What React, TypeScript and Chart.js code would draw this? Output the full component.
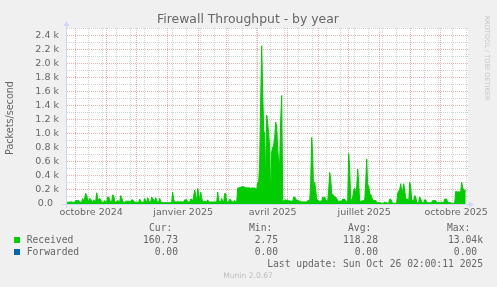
import React, { useEffect, useRef } from 'react';
import { Chart, registerables } from 'chart.js';

Chart.register(...registerables);

// ---- Data (x values are days relative to 1 Oct 2024) ----
const TITLE = 'Firewall Throughput - by year';
const Y_TITLE = 'Packets/second';
const FIRST_DAY = -9;
const X_MIN = -9.7;
const X_MAX = 392.3;
const Y_MAX = 2514;

// Received packets/second, one value per day starting at FIRST_DAY
const received = [
  25, 25, 25, 30, 30, 30, 25, 25, 25, 50,
  50, 50, 50, 25, 25, 25, 80, 40, 90, 150,
  120, 60, 30, 80, 70, 40, 30, 60, 40, 40,
  160, 90, 30, 80, 60, 25, 25, 25, 50, 30,
  25, 100, 100, 60, 30, 30, 130, 120, 30, 30,
  30, 50, 40, 30, 120, 90, 40, 25, 25, 40,
  40, 40, 40, 40, 25, 60, 60, 40, 30, 25,
  25, 25, 25, 70, 40, 25, 25, 25, 80, 40,
  25, 90, 50, 25, 25, 100, 80, 60, 30, 90,
  50, 25, 25, 80, 40, 20, 20, 20, 20, 20,
  20, 20, 20, 20, 20, 30, 170, 60, 30, 30,
  30, 40, 30, 30, 35, 30, 30, 30, 60, 60,
  60, 30, 30, 30, 70, 70, 30, 120, 200, 130,
  40, 220, 150, 40, 170, 80, 35, 35, 35, 35,
  35, 60, 30, 30, 30, 30, 30, 30, 30, 30,
  30, 170, 60, 30, 30, 80, 30, 30, 150, 150,
  30, 30, 30, 70, 60, 30, 30, 30, 50, 30,
  30, 230, 230, 235, 240, 245, 250, 245, 240, 235,
  230, 235, 230, 230, 225, 230, 230, 225, 230, 220,
  200, 310, 320, 600, 1500, 2260, 1600, 1050, 1000, 300,
  1270, 1150, 1000, 800, 50, 750, 800, 850, 950, 1170,
  1100, 800, 580, 600, 1200, 1550, 50, 40, 60, 60,
  50, 60, 40, 50, 40, 40, 40, 100, 100, 80,
  40, 60, 40, 40, 40, 30, 30, 30, 30, 30,
  30, 50, 50, 40, 300, 950, 700, 100, 310, 200,
  60, 60, 40, 40, 40, 40, 100, 90, 100, 60,
  40, 40, 200, 450, 350, 140, 140, 120, 100, 100,
  80, 40, 40, 40, 40, 40, 70, 70, 70, 40,
  40, 40, 720, 500, 60, 60, 100, 190, 230, 150,
  250, 500, 300, 40, 40, 40, 50, 50, 50, 300,
  640, 260, 260, 140, 140, 100, 50, 50, 50, 50,
  20, 20, 20, 20, 20, 10, 10, 10, 30, 20,
  20, 10, 10, 70, 70, 40, 10, 10, 10, 10,
  10, 150, 190, 200, 290, 200, 190, 290, 200, 70,
  70, 70, 20, 310, 250, 50, 50, 50, 120, 100,
  20, 20, 20, 100, 80, 20, 20, 20, 60, 60,
  20, 20, 20, 20, 20, 20, 50, 50, 50, 50,
  20, 20, 20, 20, 20, 30, 20, 20, 70, 70,
  70, 20, 20, 20, 20, 10, 10, 10, 10, 180,
  180, 170, 180, 170, 180, 310, 240, 190, 200, 190,
];

// Month starts (major grid) and fortnightly Mondays (minor grid)
const monthStarts = [0, 31, 61, 92, 123, 151, 182, 212, 243, 273, 304, 335, 365];
const minorDays = [13, 27, 41, 55, 69, 83, 97, 111, 125, 139, 153, 167, 181, 195, 209, 223, 237, 251, 265, 279, 293, 307, 321, 349, 363, 377, 391];
const xLabelDays = [15.5, 107.5, 197, 288.5, 380.5];
const xLabels = ['octobre 2024', 'janvier 2025', 'avril 2025', 'juillet 2025', 'octobre 2025'];
const yTicks = [0, 100, 200, 300, 400, 500, 600, 700, 800, 900, 1000, 1100, 1200, 1300, 1400, 1500, 1600, 1700, 1800, 1900, 2000, 2100, 2200, 2300, 2400, 2500];

// Legend table
const legendNames = ['Received', 'Forwarded'];
const legendColors = ['#00cc00', '#0066b3'];
const colHeaders = ['Cur:', 'Min:', 'Avg:', 'Max:'];
const curValues = ['160.73', '0.00'];
const minValues = ['2.75', '0.00'];
const avgValues = ['118.28', '0.00'];
const maxValues = ['13.04k', '0.00 '];
const LAST_UPDATE = 'Last update: Sun Oct 26 02:00:11 2025';
const VERSION = 'Munin 2.0.67';
const WATERMARK = 'RRDTOOL / TOBI OETIKER';

const FONT_COLOR = '#666666';
const AXIS_COLOR = '#cfd6f8';
const MAJOR_GRID = 'rgba(190, 50, 50, 0.38)';
const MINOR_GRID = 'rgba(140, 140, 140, 0.38)';
const SANS = '"DejaVu Sans", sans-serif';
const MONO = '"DejaVu Sans Mono", monospace';

const decorPlugin = {
  id: 'muninDecor',
  beforeDraw(chart: any) {
    const { ctx, chartArea: a, width, height } = chart;
    ctx.save();
    ctx.fillStyle = '#f0f0f0';
    ctx.fillRect(0, 0, width, height);
    ctx.fillStyle = '#ffffff';
    ctx.fillRect(a.left, a.top, a.right - a.left, a.bottom - a.top);
    ctx.restore();
  },
  afterDraw(chart: any) {
    const { ctx, chartArea: a } = chart;
    ctx.save();
    // axes with arrows
    ctx.strokeStyle = AXIS_COLOR;
    ctx.fillStyle = AXIS_COLOR;
    ctx.lineWidth = 1;
    const ax = Math.round(a.left) + 0.5;
    const ay = Math.round(a.bottom) + 0.5;
    ctx.beginPath();
    ctx.moveTo(ax, a.bottom + 4);
    ctx.lineTo(ax, a.top - 4);
    ctx.moveTo(a.left - 4, ay);
    ctx.lineTo(a.right + 3, ay);
    ctx.stroke();
    ctx.beginPath();
    ctx.moveTo(ax, a.top - 7);
    ctx.lineTo(ax - 3, a.top - 2);
    ctx.lineTo(ax + 3, a.top - 2);
    ctx.closePath();
    ctx.fill();
    ctx.beginPath();
    ctx.moveTo(a.right + 6, ay);
    ctx.lineTo(a.right + 1, ay - 3);
    ctx.lineTo(a.right + 1, ay + 3);
    ctx.closePath();
    ctx.fill();

    // title
    ctx.fillStyle = FONT_COLOR;
    ctx.font = `12.4px ${SANS}`;
    ctx.textAlign = 'center';
    ctx.textBaseline = 'middle';
    ctx.fillText(TITLE, 248, 20);

    // y title
    ctx.save();
    ctx.translate(10.5, (a.top + a.bottom) / 2 + 2);
    ctx.rotate(-Math.PI / 2);
    ctx.font = `9.6px ${SANS}`;
    ctx.fillText(Y_TITLE, 0, 0);
    ctx.restore();

    // watermark
    ctx.save();
    ctx.translate(487, 58);
    ctx.rotate(Math.PI / 2);
    ctx.font = `6.6px ${SANS}`;
    ctx.fillStyle = '#c4c4c4';
    ctx.fillText(WATERMARK, 0, 0);
    ctx.restore();

    // legend
    ctx.font = `9.7px ${MONO}`;
    ctx.fillStyle = FONT_COLOR;
    ctx.textAlign = 'left';
    const headerX = [149, 249, 348, 447];
    colHeaders.forEach((h, i) => ctx.fillText(h, headerX[i], 228));
    const rowsY = [240, 252];
    const rightX = [178, 278, 378, 483];
    legendNames.forEach((name, r) => {
      ctx.fillStyle = legendColors[r];
      ctx.fillRect(14, rowsY[r] - 3, 6, 6);
      ctx.fillStyle = FONT_COLOR;
      ctx.textAlign = 'left';
      ctx.fillText(name, 26.7, rowsY[r]);
      ctx.textAlign = 'right';
      [curValues, minValues, avgValues, maxValues].forEach((vals, c) => {
        ctx.fillText(vals[r], rightX[c], rowsY[r]);
      });
    });
    ctx.textAlign = 'right';
    ctx.fillText(LAST_UPDATE, 483, 264);

    ctx.textAlign = 'center';
    ctx.font = `7.6px ${SANS}`;
    ctx.fillStyle = '#bdbdbd';
    ctx.fillText(VERSION, 248, 276);
    ctx.restore();
  },
};

export default function App() {
  const ref = useRef<HTMLCanvasElement>(null);
  useEffect(() => {
    document.body.style.margin = '0';
    document.body.style.background = '#f0f0f0';
    const majorSet = new Set(monthStarts);
    const points = received.map((v, i) => ({ x: FIRST_DAY + i, y: v }));
    const chart = new Chart(ref.current as HTMLCanvasElement, {
      type: 'line',
      data: {
        datasets: [
          {
            label: legendNames[0],
            data: points,
            borderColor: legendColors[0],
            backgroundColor: legendColors[0],
            borderWidth: 1,
            fill: 'origin',
            pointRadius: 0,
            tension: 0,
          },
        ],
      },
      options: {
        animation: false,
        responsive: false,
        devicePixelRatio: 1,
        layout: { padding: { left: 0, top: 28, right: 29, bottom: 0 } },
        plugins: { legend: { display: false }, tooltip: { enabled: false }, title: { display: false } },
        scales: {
          x: {
            type: 'linear',
            position: 'bottom',
            weight: 0,
            min: X_MIN,
            max: X_MAX,
            afterBuildTicks: (s: any) => {
              s.ticks = [...minorDays, ...monthStarts].map((v) => ({ value: v }));
            },
            afterFit: (s: any) => {
              s.height = 0;
            },
            ticks: { display: false },
            grid: {
              drawTicks: false,
              color: (c: any) => (c.tick && majorSet.has(c.tick.value) ? MAJOR_GRID : MINOR_GRID),
              lineWidth: 1,
            },
            border: { display: true, color: AXIS_COLOR, dash: [1, 1] },
          },
          x2: {
            type: 'linear',
            position: 'bottom',
            weight: 1,
            min: X_MIN,
            max: X_MAX,
            afterBuildTicks: (s: any) => {
              s.ticks = xLabelDays.map((v) => ({ value: v }));
            },
            afterFit: (s: any) => {
              s.height = 83;
            },
            grid: { display: false, drawTicks: false },
            border: { display: false },
            ticks: {
              autoSkip: false,
              maxRotation: 0,
              padding: 3,
              color: FONT_COLOR,
              font: { family: SANS, size: 9.5 },
              callback: (_v: any, i: number) => xLabels[i],
            },
          },
          y: {
            type: 'linear',
            min: 0,
            max: Y_MAX,
            afterBuildTicks: (s: any) => {
              s.ticks = yTicks.map((v) => ({ value: v }));
            },
            afterFit: (s: any) => {
              s.width = 66;
            },
            grid: {
              drawTicks: false,
              color: (c: any) => (c.tick && c.tick.value % 200 === 0 ? MAJOR_GRID : MINOR_GRID),
              lineWidth: 1,
            },
            border: { display: true, color: AXIS_COLOR, dash: [1, 1] },
            ticks: {
              autoSkip: false,
              padding: 7,
              color: FONT_COLOR,
              font: { family: SANS, size: 9.5 },
              callback: (v: any) => {
                const n = Number(v);
                if (n % 200 !== 0) return '';
                if (n === 0) return '0.0  ';
                return (n / 1000).toFixed(1) + ' k';
              },
            },
          },
        },
      },
      plugins: [decorPlugin],
    } as any);
    return () => chart.destroy();
  }, []);
  return (
    <div style={{ width: 497, height: 287 }}>
      <canvas ref={ref} width={497} height={287} style={{ display: 'block', width: 497, height: 287 }} />
    </div>
  );
}
